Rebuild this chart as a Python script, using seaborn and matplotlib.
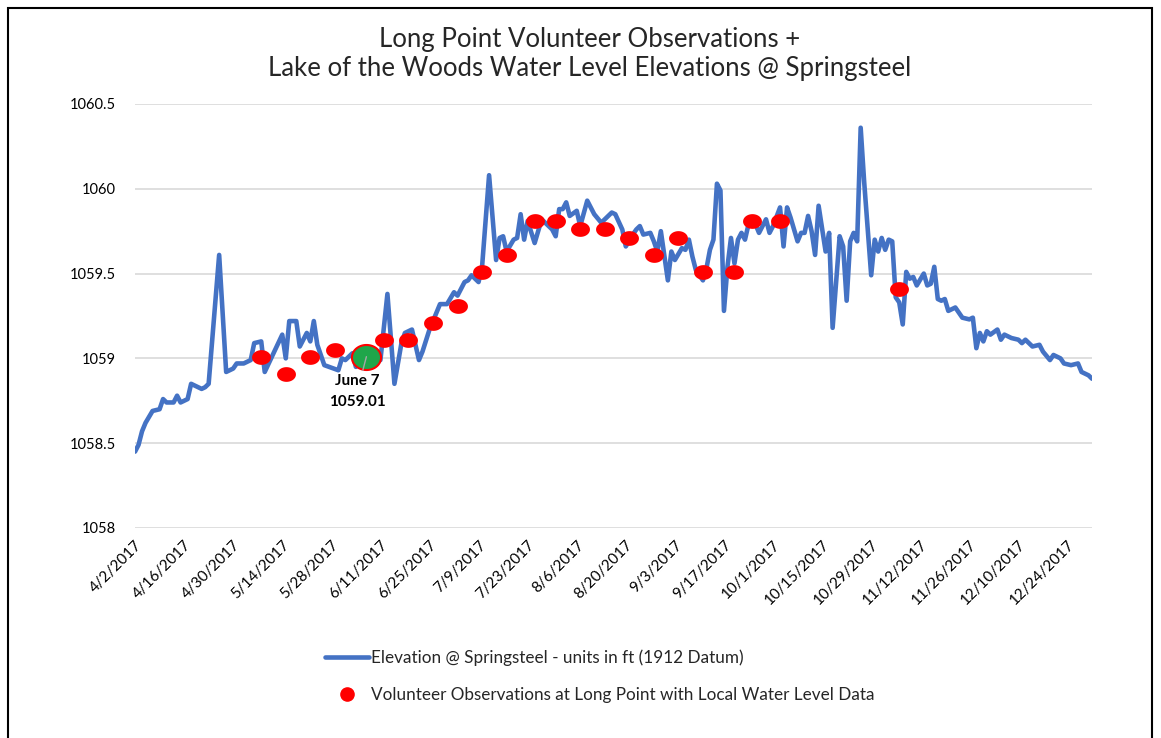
import numpy as np
import pandas as pd
import matplotlib
matplotlib.use("Agg")
import matplotlib.pyplot as plt
import matplotlib.dates as mdates
from matplotlib.path import Path
from matplotlib.lines import Line2D
from matplotlib.patches import Rectangle
import seaborn as sns

# Springsteel elevation, days since 4/2/2017
elev_day = [
    0, 1, 2, 3, 5, 7, 8, 9, 11, 12, 13, 15, 16, 19, 20, 21, 24, 26, 28, 29,
    31, 33, 34, 36, 37, 42, 43, 44, 46, 47, 49, 50, 51, 52, 54, 58, 59, 60, 62, 63,
    66, 70, 72, 74, 76, 77, 79, 81, 82, 84, 87, 89, 91, 92, 94, 95, 96, 98, 99, 101,
    103, 104, 105, 106, 108, 109, 110, 111, 112, 114, 116, 117, 119, 120, 121, 122, 123, 124, 126, 127,
    129, 131, 133, 136, 137, 139, 140, 142, 143, 144, 145, 147, 148, 149, 150, 152, 153, 154, 156, 157,
    158, 159, 160, 162, 163, 164, 165, 166, 167, 168, 169, 170, 171, 172, 173, 174, 175, 177, 178, 180,
    181, 182, 184, 185, 186, 187, 189, 190, 191, 192, 193, 194, 195, 197, 198, 199, 201, 202, 203, 204,
    205, 206, 207, 208, 210, 211, 212, 213, 214, 215, 216, 217, 218, 219, 220, 221, 222, 223, 225, 226,
    227, 228, 229, 230, 231, 232, 234, 236, 238, 239, 240, 241, 242, 243, 244, 246, 247, 248, 250, 252,
    253, 254, 256, 258, 259, 261, 262, 264, 265, 267, 269, 270, 272, 273,
]
elev_ft = [
    1058.45, 1058.49, 1058.57, 1058.62, 1058.69, 1058.70, 1058.76, 1058.74, 1058.74, 1058.78,
    1058.74, 1058.76, 1058.85, 1058.82, 1058.83, 1058.85, 1059.61, 1058.92, 1058.94, 1058.97,
    1058.97, 1058.99, 1059.09, 1059.10, 1058.92, 1059.14, 1059.00, 1059.22, 1059.22, 1059.07,
    1059.15, 1059.10, 1059.22, 1059.08, 1058.96, 1058.93, 1059.00, 1058.99, 1059.03, 1058.95,
    1059.01, 1058.99, 1059.38, 1058.85, 1059.09, 1059.15, 1059.17, 1058.99, 1059.04, 1059.17,
    1059.32, 1059.32, 1059.39, 1059.37, 1059.45, 1059.46, 1059.49, 1059.45, 1059.54, 1060.08,
    1059.58, 1059.71, 1059.72, 1059.63, 1059.70, 1059.71, 1059.85, 1059.70, 1059.81, 1059.68,
    1059.82, 1059.80, 1059.76, 1059.72, 1059.88, 1059.88, 1059.92, 1059.84, 1059.87, 1059.78,
    1059.93, 1059.85, 1059.80, 1059.86, 1059.85, 1059.76, 1059.66, 1059.73, 1059.76, 1059.78,
    1059.73, 1059.74, 1059.69, 1059.63, 1059.75, 1059.46, 1059.63, 1059.58, 1059.65, 1059.64,
    1059.70, 1059.60, 1059.52, 1059.46, 1059.53, 1059.64, 1059.70, 1060.03, 1059.99, 1059.28,
    1059.54, 1059.71, 1059.56, 1059.70, 1059.74, 1059.70, 1059.79, 1059.79, 1059.74, 1059.82,
    1059.74, 1059.78, 1059.89, 1059.66, 1059.89, 1059.83, 1059.69, 1059.74, 1059.74, 1059.84,
    1059.75, 1059.61, 1059.90, 1059.63, 1059.74, 1059.18, 1059.72, 1059.66, 1059.34, 1059.69,
    1059.74, 1059.69, 1060.36, 1060.04, 1059.49, 1059.70, 1059.63, 1059.71, 1059.64, 1059.70,
    1059.69, 1059.36, 1059.33, 1059.20, 1059.51, 1059.47, 1059.48, 1059.43, 1059.50, 1059.43,
    1059.44, 1059.54, 1059.35, 1059.34, 1059.35, 1059.28, 1059.30, 1059.24, 1059.23, 1059.24,
    1059.06, 1059.15, 1059.10, 1059.16, 1059.14, 1059.17, 1059.11, 1059.14, 1059.12, 1059.11,
    1059.09, 1059.11, 1059.07, 1059.08, 1059.04, 1058.99, 1059.02, 1059.00, 1058.97, 1058.96,
    1058.97, 1058.92, 1058.90, 1058.88,
]

# volunteer observations at Long Point
obs_date = [
    "2017-05-08", "2017-05-15", "2017-05-22", "2017-05-29", "2017-06-07", "2017-06-12",
    "2017-06-19", "2017-06-26", "2017-07-03", "2017-07-10", "2017-07-17", "2017-07-25",
    "2017-07-31", "2017-08-07", "2017-08-14", "2017-08-21", "2017-08-28", "2017-09-04",
    "2017-09-11", "2017-09-20", "2017-09-25", "2017-10-03", "2017-11-06",
]
obs_ft = [
    1059.01, 1058.91, 1059.01, 1059.05, 1059.01, 1059.11, 1059.11, 1059.21, 1059.31, 1059.51,
    1059.61, 1059.81, 1059.81, 1059.76, 1059.76, 1059.71, 1059.61, 1059.71, 1059.51, 1059.51,
    1059.81, 1059.81, 1059.41,
]

hl_date = "2017-06-07"
hl_ft = 1059.01
hl_label = "June 7\n1059.01"

line_label = "Elevation @ Springsteel - units in ft (1912 Datum)"
dot_label = "Volunteer Observations at Long Point with Local Water Level Data"
title = "Long Point Volunteer Observations +\nLake of the Woods Water Level Elevations @ Springsteel"

start = pd.Timestamp("2017-04-02")
elev = pd.DataFrame({
    "date": start + pd.to_timedelta(elev_day, unit="D"),
    "ft": elev_ft,
})
obs = pd.DataFrame({"date": pd.to_datetime(obs_date), "ft": obs_ft})

sns.set_theme(style="white")
plt.rcParams["font.family"] = ["Lato", "DejaVu Sans"]

blue = "#4472C4"
red = "#FF0000"
green = "#1FA64A"

# slightly squashed dots like the original
t = np.linspace(0, 2 * np.pi, 60)
oval = Path(np.column_stack([np.cos(t), 0.78 * np.sin(t)]), closed=True)
oval_big = Path(np.column_stack([np.cos(t), 0.86 * np.sin(t)]), closed=True)

fig = plt.figure(figsize=(11.61, 7.38), dpi=100)
ax = fig.add_axes([0.1163, 0.2846, 0.8243, 0.5745])

sns.lineplot(data=elev, x="date", y="ft", ax=ax, color=blue, linewidth=3.3)
sns.scatterplot(data=obs, x="date", y="ft", ax=ax, color=red, marker=oval,
                s=185, linewidth=0, zorder=3)

hx = mdates.date2num(pd.Timestamp(hl_date))
ax.scatter([hx], [hl_ft], s=440, marker=oval_big, color=green,
           edgecolor=red, linewidth=1.5, zorder=4)
ax.annotate(hl_label, xy=(hx, hl_ft), xytext=(-9, -17), textcoords="offset pixels",
            ha="center", va="top", fontsize=11, fontweight="bold",
            linespacing=1.65, color="black",
            arrowprops=dict(arrowstyle="-", color="#a6a6a6", lw=1,
                            shrinkA=0, shrinkB=0), zorder=5)

ax.set_xlim(start, pd.Timestamp("2017-12-31"))
ax.set_ylim(1058, 1060.5)
ax.set_yticks([1058, 1058.5, 1059, 1059.5, 1060, 1060.5])
ax.set_yticklabels(["1058", "1058.5", "1059", "1059.5", "1060", "1060.5"])
ticks = pd.date_range(start, "2017-12-31", freq="14D")
ax.set_xticks(ticks)
ax.set_xticklabels([f"{d.month}/{d.day}/{d.year}" for d in ticks],
                   rotation=45, ha="right", rotation_mode="anchor")
ax.tick_params(axis="x", labelsize=11, colors="black", length=0, pad=7)
ax.tick_params(axis="y", labelsize=10.5, colors="black", length=0, pad=14)
ax.grid(axis="y", color="#d9d9d9", linewidth=1.2)
ax.grid(axis="x", visible=False)
for s in ax.spines.values():
    s.set_visible(False)
ax.set_xlabel("")
ax.set_ylabel("")

fig.suptitle(title, x=0.508, y=0.963, fontsize=18.5, linespacing=1.2)

handles = [
    Line2D([], [], color=blue, linewidth=3.3),
    Line2D([], [], color=red, marker="o", linestyle="", markersize=9.5),
]
fig.legend(handles, [line_label, dot_label], loc="upper left",
           bbox_to_anchor=(325 / 1161, 1 - 649 / 738), frameon=False,
           fontsize=12.3, handlelength=2.6, handletextpad=0.12,
           labelspacing=1.25, borderpad=0, borderaxespad=0)

fig.patches.append(Rectangle((8 / 1161, -0.05), (1152 - 8) / 1161, 1.05 - 8 / 738,
                             transform=fig.transFigure, fill=False,
                             edgecolor="black", linewidth=1.5))

fig.savefig("out.png", dpi=100)
